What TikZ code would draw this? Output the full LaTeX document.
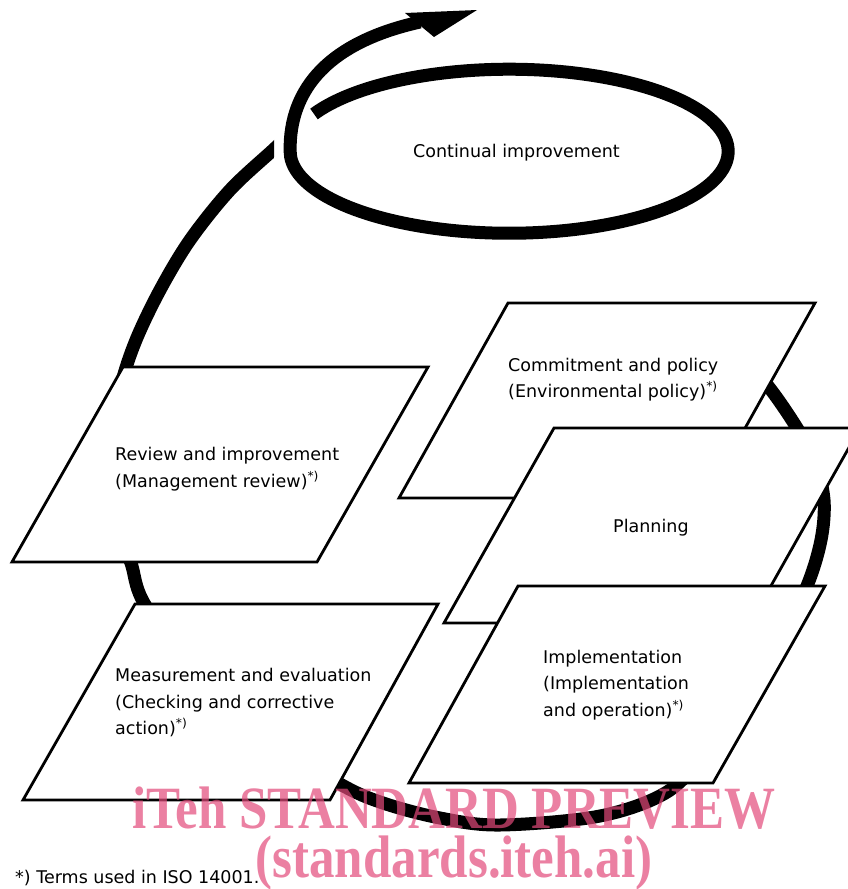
\documentclass[tikz,border=0pt]{standalone}
\usepackage{fontspec}
\setmainfont{DejaVu Sans}
\newfontfamily\markfont{Liberation Serif}[FakeStretch=0.85]
\definecolor{markpink}{RGB}{226,74,122}
\tikzset{
  panel/.style={draw=black, line width=2.8pt, fill=white, line join=miter},
  cycleline/.style={draw=black, line width=13pt, line join=round},
  txt/.style={anchor=base west, inner sep=0pt, font=\fontsize{17.5}{21}\selectfont},
  stamp/.style={anchor=base, inner sep=0pt, text=markpink, text opacity=0.7,
    font=\markfont\bfseries\fontsize{60}{60}\selectfont}
}
\begin{document}
\begin{tikzpicture}[x=1pt,y=-1pt]
\useasboundingbox (0,0) rectangle (848,889);
\clip (0,0) rectangle (848,889);

% big cycle behind the boxes
\begin{scope}
\clip (0,0) -- (274,0) -- (274,200) -- (848,200) -- (848,889) -- (0,889) -- cycle;
\draw[cycleline] plot[smooth, tension=0.55] coordinates {(735,350) (768,386) (797,428)
  (815,462) (824,500) (821,540) (807,586) (778,645) (745,700) (708,750) (667,792)
  (600,816) (500,825) (440,818) (383,803) (340,784) (262,735) (195,675) (144,603)
  (131,563) (118,530) (110,490) (110,440) (121,385) (136,340) (160,290)
  (190,240) (230,190) (273,150) (290,134)};
\end{scope}

% continual improvement loop
\draw[cycleline] (314,114) arc[start angle=207, end angle=540, x radius=219, y radius=82]
  .. controls (289,88) and (330,42) .. (420,22);
\fill (477,10) -- (405,13) -- (434,37) -- cycle;
\node[txt] (ci) at (413,157) {Continual improvement};

% boxes
\draw[panel] (508,303) -- (815,303) -- (706,498) -- (399,498) -- cycle;
\node[txt] (com1) at (508,371) {Commitment and policy};
\node[txt] (com2) at (508,397) {(Environmental policy)\textsuperscript{*)}};

\draw[panel] (554,428) -- (860,428) -- (750,623) -- (444,623) -- cycle;
\node[txt] (plan) at (613,532) {Planning};

\draw[panel] (518,586) -- (825,586) -- (713,783) -- (409,783) -- cycle;
\node[txt] (imp1) at (543,663) {Implementation};
\node[txt] (imp2) at (543,689) {(Implementation};
\node[txt] (imp3) at (543,716) {and operation)\textsuperscript{*)}};

\draw[panel] (123,367) -- (428,367) -- (317,562) -- (12,562) -- cycle;
\node[txt] (rev1) at (115,460) {Review and improvement};
\node[txt] (rev2) at (115,487) {(Management review)\textsuperscript{*)}};

\draw[panel] (135,604) -- (438,604) -- (330,800) -- (23,800) -- cycle;
\node[txt] (mea1) at (115,681) {Measurement and evaluation};
\node[txt] (mea2) at (115,708) {(Checking and corrective};
\node[txt] (mea3) at (115,734) {action)\textsuperscript{*)}};

\node[txt] (note) at (15,883) {*) Terms used in ISO 14001.};

% watermark
\node[stamp] (wm1) at (454,828) {iTeh STANDARD PREVIEW};
\node[stamp] (wm2) at (454,877) {(standards.iteh.ai)};
\end{tikzpicture}
\end{document}
